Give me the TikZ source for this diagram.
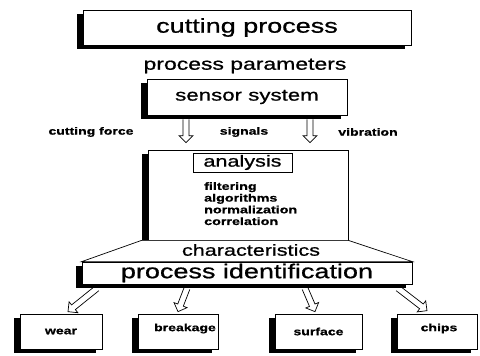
\documentclass[tikz,border=0pt]{standalone}
\usepackage{fontspec}
\setmainfont{Liberation Sans}[FakeStretch=1.35, FakeBold=0.8]
\usetikzlibrary{calc,shadows}
\begin{document}
\begin{tikzpicture}[x=1pt,y=-1pt,
  box/.style={draw, fill=white, line width=0.7pt, inner sep=0pt},
  shad/.style={drop shadow={shadow xshift=-6pt, shadow yshift=-4pt, fill=black, opacity=1}},
  bigtxt/.style={font=\fontsize{20}{22}\selectfont},
  midtxt/.style={font=\fontsize{16.5}{18}\selectfont},
  smalltxt/.style={font=\bfseries\fontsize{10.4}{12}\selectfont},
  arr/.style={draw, line width=0.7pt, line join=miter},
  hollow/.style={to path={
    ($(\tikztostart)!3pt!90:(\tikztotarget)$)
    -- ($(\tikztotarget)!7pt!(\tikztostart)!3pt!-90:(\tikztostart)$)
    -- ($(\tikztotarget)!7pt!(\tikztostart)!7pt!-90:(\tikztostart)$)
    -- (\tikztotarget)
    -- ($(\tikztotarget)!7pt!(\tikztostart)!7pt!90:(\tikztostart)$)
    -- ($(\tikztotarget)!7pt!(\tikztostart)!3pt!90:(\tikztostart)$)
    -- ($(\tikztostart)!3pt!-90:(\tikztotarget)$)
  }}
]
\useasboundingbox (0,0) rectangle (480,356);

% top
\node[box, shad, minimum width=328pt, minimum height=35pt, bigtxt] (cut) at (247,27.5) {cutting process};
\node[font=\fontsize{17}{19}\selectfont] (pp) at (245,66) {process parameters};
\node[box, shad, minimum width=200pt, minimum height=36pt, midtxt] (sen) at (247,97) {sensor system};

% signal labels
\node[smalltxt] (lf) at (91,132) {cutting force};
\node[smalltxt] (ls) at (244,132) {signals};
\node[smalltxt] (lv) at (368,132) {vibration};

% analysis block
\node[box, shad, minimum width=200pt, minimum height=90pt] (an) at (248,195) {};
\node[box, line width=0.5pt, minimum width=99pt, minimum height=19pt, font=\fontsize{16}{18}\selectfont] (anl) at (242.5,162.5) {analysis};
\node[font=\bfseries\fontsize{10.6}{11.7}\selectfont, align=left, anchor=north west, inner sep=0pt] (list) at (204,182) {filtering\\algorithms\\normalization\\correlation};

% process identification
\node[box, shad, minimum width=330pt, minimum height=22pt, bigtxt] (pid) at (247,273) {process identification};
\draw[line width=0.7pt, fill=white] ([xshift=-6pt]an.south west) -- (an.south east) -- (pid.north east) -- (pid.north west) -- cycle;
\node[font=\fontsize{16}{18}\selectfont] (chr) at (251,250) {characteristics};

% result boxes
\node[box, shad, minimum width=82pt, minimum height=35pt, smalltxt] (wear) at (61,331.5) {wear};
\node[box, shad, minimum width=80pt, minimum height=35pt, smalltxt] (brk) at (178,331.5) {};
\node[smalltxt] (brkt) at (185,328.5) {breakage};
\node[box, shad, minimum width=87pt, minimum height=35pt, smalltxt] (sur) at (318.5,331.5) {surface};
\node[box, shad, minimum width=80pt, minimum height=35pt, smalltxt] (chp) at (437,331.5) {};
\node[smalltxt] (chpt) at (439,328.5) {chips};

% arrows
\coordinate (a1s) at ($(sen.south)+(-61,4)$);
\coordinate (a1e) at ($(an.north)+(-62,-7)$);
\coordinate (a2s) at ($(sen.south)+(63,4)$);
\coordinate (a2e) at ($(an.north)+(62,-7)$);
\draw[arr] (a1s) to[hollow] (a1e);
\draw[arr] (a2s) to[hollow] (a2e);

\coordinate (b1s) at ($(pid.south)+(-150,4)$);
\coordinate (b1e) at ($(wear.north)+(7,-2)$);
\coordinate (b2s) at ($(pid.south)+(-60,4)$);
\coordinate (b2e) at ($(brk.north)+(0,-2)$);
\coordinate (b3s) at ($(pid.south)+(58,4)$);
\coordinate (b3e) at ($(sur.north)+(-3.5,-2)$);
\coordinate (b4s) at ($(pid.south)+(151,4)$);
\coordinate (b4e) at ($(chp.north)+(-10,-3)$);
\draw[arr] (b1s) to[hollow] (b1e);
\draw[arr] (b2s) to[hollow] (b2e);
\draw[arr] (b3s) to[hollow] (b3e);
\draw[arr] (b4s) to[hollow] (b4e);
\end{tikzpicture}
\end{document}
